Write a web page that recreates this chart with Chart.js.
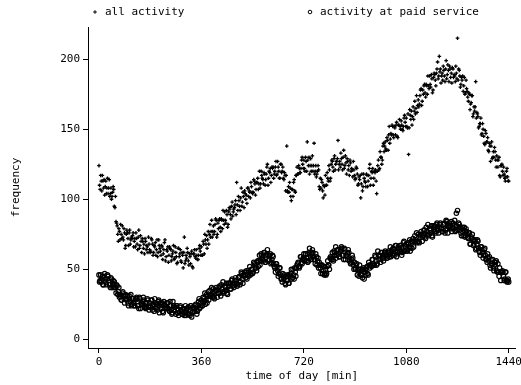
<!DOCTYPE html>
<html>
<head>
<meta charset="utf-8">
<script src="https://cdn.jsdelivr.net/npm/chart.js@4/dist/chart.umd.min.js"></script>
<style>
  html, body { margin: 0; padding: 0; background: #fff; }
</style>
</head>
<body>
<canvas id="chart" width="521" height="385"></canvas>
<script>
// readings taken off the plot, one every 2 minutes, kept as two interleaved runs:
// "on" = minutes 0, 4, 8 ... 1440, "off" = minutes 2, 6, 10 ... 1438
const stepMin = 4;
const offsetMin = 2;

const allActivityOn = [
  124,107,113,117,108,103,113,108,104,114,104,100,105,107,94,
  84,81,70,77,82,72,73,79,65,75,76,67,78,71,72,
  76,70,66,72,64,78,67,70,72,65,61,70,67,62,68,
  62,72,68,62,66,60,71,62,67,63,67,57,64,71,59,
  63,55,66,64,59,63,57,66,59,55,65,61,56,62,51,
  73,56,58,62,53,59,61,52,61,64,58,60,57,65,63,
  66,60,68,75,68,65,77,75,73,85,77,75,82,85,75,
  79,86,77,85,92,82,85,92,80,91,93,86,98,91,94,
  99,112,92,99,92,108,98,102,106,100,97,108,106,101,109,
  104,114,111,107,112,107,120,111,117,114,119,110,118,125,115,
  119,112,123,123,118,123,117,127,120,115,125,120,115,119,106,
  138,105,105,108,99,107,112,106,117,123,118,122,119,128,125,
  128,120,127,141,124,118,129,124,120,140,120,116,120,121,107,
  108,112,101,109,117,110,115,124,113,125,127,120,131,125,127,
  142,125,123,129,121,135,124,126,129,121,117,126,122,116,121,
  114,123,118,111,114,101,118,109,115,112,118,109,117,125,115,
  119,110,120,121,104,124,121,134,130,128,140,138,136,144,135,
  152,143,146,152,144,151,153,145,153,157,150,153,149,158,155,
  158,151,132,164,157,153,166,163,161,174,167,166,174,179,170,
  175,182,173,181,188,179,182,189,176,187,189,181,193,186,202,
  193,188,185,192,184,199,189,192,195,187,183,193,189,184,190,
  215,193,188,182,185,177,187,176,179,173,176,164,169,174,161,
  163,184,162,159,152,154,146,154,145,139,147,141,135,140,127,
  141,130,130,134,123,128,128,117,124,125,117,118,113,120,116,
  113
];

const allActivityOff = [
  110,117,106,113,114,109,104,115,108,102,108,102,109,95,102,
  83,75,79,71,75,81,71,76,67,78,72,76,68,73,74,
  66,72,76,68,73,65,74,62,70,68,72,64,66,73,64,
  63,71,60,67,69,64,59,71,65,60,66,61,69,56,64,
  66,60,65,56,61,67,58,62,54,65,59,64,55,60,62,
  54,60,65,56,61,54,63,51,61,59,64,57,60,67,60,
  60,70,61,71,74,71,68,82,77,73,81,77,86,73,83,
  85,80,86,79,85,91,83,89,82,94,89,95,88,93,96,
  89,96,102,95,101,95,105,94,104,103,108,102,105,112,105,
  105,113,103,112,115,111,108,120,115,111,118,114,123,110,120,
  122,117,122,115,120,127,118,123,115,125,119,123,114,117,117,
  106,109,112,102,107,102,114,105,117,118,124,119,122,130,122,
  122,130,120,128,130,124,120,131,124,118,124,118,124,109,115,
  114,106,110,103,110,119,113,121,115,128,123,129,121,127,129,
  121,127,133,125,130,122,131,118,127,124,128,120,121,127,117,
  115,122,110,116,117,111,106,118,113,109,117,113,122,110,120,
  122,115,119,113,120,128,122,130,125,138,134,141,135,142,146,
  140,147,153,146,152,146,155,144,153,152,156,150,152,160,152,
  152,161,151,160,163,159,157,170,165,162,171,168,178,167,178,
  181,176,182,175,181,188,180,186,178,190,185,190,198,188,191,
  183,190,195,188,193,186,196,184,193,190,194,187,188,195,186,
  185,192,180,187,188,181,175,185,177,170,175,168,174,159,166,
  166,158,161,151,154,158,147,150,140,149,141,144,134,138,138,
  129,134,137,128,131,123,130,116,124,120,123,115,116,122,113
];

const paidActivityOn = [
  46,42,41,45,39,47,41,43,45,39,37,43,40,37,39,
  33,38,34,30,32,28,34,29,31,28,31,24,29,32,25,
  29,24,28,30,24,22,29,26,25,30,23,22,26,28,21,
  24,28,21,25,29,22,23,27,19,26,25,20,27,22,23,
  26,22,20,24,18,27,21,23,24,19,17,23,21,18,21,
  17,24,21,18,21,17,24,19,23,20,25,18,24,29,23,
  28,24,29,33,28,26,34,31,31,37,31,30,34,37,30,
  33,38,31,36,41,34,35,40,32,40,40,36,43,39,40,
  44,40,39,44,39,48,43,46,48,44,43,49,48,46,50,
  47,55,53,51,55,52,60,56,60,57,62,55,60,64,56,
  60,54,57,59,52,48,54,49,47,51,43,41,45,46,39,
  42,46,40,45,50,44,46,51,45,53,55,51,59,55,57,
  61,57,56,61,56,65,59,61,62,57,54,59,56,51,53,
  47,53,49,46,50,47,56,53,58,57,62,56,62,66,60,
  64,59,63,66,60,57,64,60,59,64,56,54,57,58,50,
  51,54,46,50,53,46,46,50,43,50,51,47,55,51,53,
  57,54,53,59,53,63,57,60,62,58,56,62,61,58,62,
  59,66,63,60,64,60,67,62,66,63,67,60,66,70,63,
  68,63,68,71,66,65,72,70,70,76,70,70,74,77,70,
  74,78,72,77,82,75,76,81,73,80,81,76,83,78,80,
  83,79,77,82,76,85,79,81,83,79,77,83,81,77,90,
  92,83,80,76,79,74,80,74,77,73,76,68,72,75,67,
  70,64,68,70,63,60,66,62,60,65,57,55,58,59,51,
  54,57,49,53,56,48,48,51,42,48,48,42,48,42,42,
  41
];

const paidActivityOff = [
  41,46,43,39,45,43,39,46,42,39,44,37,42,41,37,
  39,32,37,31,28,33,31,26,32,29,26,31,27,24,29,
  26,24,29,29,24,30,22,26,27,28,24,23,29,23,26,
  23,28,24,20,26,25,21,28,24,22,26,19,25,24,22,
  26,21,27,21,19,24,23,18,24,21,19,24,20,18,22,
  19,17,22,23,18,24,16,20,22,24,21,20,27,22,26,
  24,30,27,25,32,31,28,35,32,30,36,29,35,35,33,
  37,33,39,34,33,38,37,33,40,38,36,42,38,37,42,
  40,38,44,45,41,47,40,45,46,49,46,45,52,47,50,
  48,54,51,49,56,56,53,61,58,56,62,55,61,60,57,
  61,55,60,54,51,54,52,45,51,46,43,47,43,40,45,
  42,40,46,47,43,50,43,48,51,54,52,52,59,54,58,
  56,61,58,55,62,61,57,64,59,57,61,53,58,55,51,
  53,47,52,47,46,52,53,50,59,58,57,63,60,58,64,
  61,59,64,65,60,65,57,60,61,62,57,55,60,53,55,
  50,54,49,45,50,49,44,51,48,46,52,46,53,53,52,
  57,53,60,56,54,60,59,55,62,60,58,63,60,58,63,
  61,59,64,65,61,67,59,63,65,67,63,62,69,63,66,
  64,69,66,63,70,70,66,74,71,69,75,69,75,75,73,
  78,73,80,75,74,79,78,74,81,78,77,82,78,76,82,
  79,77,82,83,78,84,76,80,81,84,80,79,85,78,81,
  78,82,78,74,80,78,73,79,75,72,76,68,73,71,68,
  71,65,71,65,62,66,64,58,64,60,57,61,56,53,57,
  54,51,55,55,49,54,45,48,48,49,45,43,48,41,43
];

const seriesLabels = ['all activity', 'activity at paid service'];
const xTicks = [0, 360, 720, 1080, 1440];
const yTicks = [0, 50, 100, 150, 200];

const monoFont = '"DejaVu Sans Mono", "Liberation Mono", monospace';
Chart.defaults.font.family = monoFont;
Chart.defaults.font.size = 11;
Chart.defaults.color = '#000';

function toPoints(onValues, offValues) {
  const pts = onValues.map((v, i) => ({ x: i * stepMin, y: v }));
  offValues.forEach((v, i) => pts.push({ x: i * stepMin + offsetMin, y: v }));
  return pts;
}

// legend drawn on one line above the plot, like the original
const legendSpots = [{ x: 95, y: 12 }, { x: 310, y: 12 }];
const topLegend = {
  id: 'topLegend',
  afterDraw(chart) {
    const c = chart.ctx;
    c.save();
    c.font = '11px ' + monoFont;
    c.textBaseline = 'middle';
    chart.data.datasets.forEach((ds, i) => {
      const spot = legendSpots[i];
      c.strokeStyle = '#000';
      c.fillStyle = ds.backgroundColor;
      c.lineWidth = 1;
      Chart.helpers.drawPoint(c, { pointStyle: ds.pointStyle, radius: 1.8, borderWidth: 1, rotation: 0 }, spot.x, spot.y);
      c.fillStyle = '#000';
      c.fillText(ds.label, spot.x + 10, spot.y);
    });
    c.restore();
  }
};

const chart = new Chart(document.getElementById('chart').getContext('2d'), {
  type: 'scatter',
  data: {
    datasets: [
      {
        label: seriesLabels[0],
        data: toPoints(allActivityOn, allActivityOff),
        pointStyle: 'cross',
        pointRadius: 1.8,
        borderWidth: 1.3,
        borderColor: '#000',
        backgroundColor: '#000'
      },
      {
        label: seriesLabels[1],
        data: toPoints(paidActivityOn, paidActivityOff),
        pointStyle: 'circle',
        pointRadius: 2.2,
        borderWidth: 1.2,
        borderColor: '#000',
        backgroundColor: 'rgba(0,0,0,0)'
      }
    ]
  },
  options: {
    responsive: false,
    animation: false,
    events: [],
    layout: { padding: { left: 0, top: 27, right: 4, bottom: 0 } },
    plugins: {
      legend: { display: false },
      tooltip: { enabled: false }
    },
    scales: {
      x: {
        type: 'linear',
        min: -38.5,
        max: 1464.5,
        afterBuildTicks: s => { s.ticks = xTicks.map(v => ({ value: v })); },
        afterFit: s => { s.height = 37; s.paddingLeft = 0; s.paddingRight = 0; },
        grid: { drawOnChartArea: false, tickLength: 5, color: '#000' },
        border: { color: '#000' },
        ticks: { padding: 3, maxRotation: 0, autoSkip: false, callback: v => String(v) },
        title: { display: true, text: 'time of day [min]', padding: { top: 0, bottom: 2 } }
      },
      y: {
        type: 'linear',
        min: -6.2,
        max: 223,
        afterBuildTicks: s => { s.ticks = yTicks.map(v => ({ value: v })); },
        afterFit: s => { s.width = 88; s.paddingTop = 0; s.paddingBottom = 0; },
        grid: { drawOnChartArea: false, tickLength: 5, color: '#000' },
        border: { color: '#000' },
        ticks: { padding: 3, autoSkip: false, callback: v => String(v) },
        title: { display: true, text: 'frequency', padding: { top: 10, bottom: 0 } }
      }
    }
  },
  plugins: [topLegend]
});
</script>
</body>
</html>
